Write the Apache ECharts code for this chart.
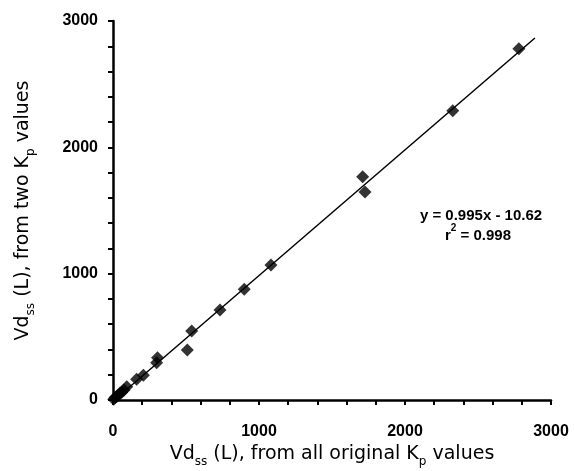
<!DOCTYPE html>
<html>
<head>
<meta charset="utf-8">
<script src="https://cdn.jsdelivr.net/npm/echarts@6/dist/echarts.min.js"></script>
<style>
  html, body { margin: 0; padding: 0; background: #fff; }
  #chart { width: 574px; height: 471px; }
</style>
</head>
<body>
<div id="chart"></div>
<script>
// Vd_ss from all original Kp values (x) vs from two Kp values (y)
var xVals = [5, 14, 25, 35, 48, 60, 75, 94, 162, 208, 299, 305, 509, 539, 733, 899, 1082, 1710, 1726, 2327, 2780];
var yVals = [5, 20, 28, 38, 55, 62, 80, 105, 164, 195, 295, 335, 396, 546, 713, 876, 1069, 1768, 1647, 2290, 2780];

// fitted line end points
var fitX = [10, 2890];
var fitY = [0, 2865];

var eqText = 'y = 0.995x - 10.62';
var r2Text = '0.998';

var points = xVals.map(function (x, i) { return [x, yVals[i]]; });
var fitLine = fitX.map(function (x, i) { return [x, fitY[i]]; });

var chart = echarts.init(document.getElementById('chart'));

var axisCommon = {
    type: 'value',
    min: 0,
    max: 3000,
    interval: 1000,
    nameLocation: 'middle',
    splitLine: { show: false },
    axisLine: { show: true, onZero: false, lineStyle: { color: '#000', width: 2.5 } },
    axisTick: { show: true, length: 5, lineStyle: { color: '#000', width: 2 } },
    minorTick: { show: true, splitNumber: 5, length: 5, lineStyle: { color: '#000', width: 2 } },
    axisLabel: {
        color: '#000',
        fontFamily: 'Liberation Sans',
        fontWeight: 'bold',
        fontSize: 16,
        formatter: function (v) { return String(v); }
    }
};

var nameRich = {
    n: { fontFamily: 'DejaVu Sans', fontSize: 19, color: '#000' },
    s: { fontFamily: 'DejaVu Sans', fontSize: 12, color: '#000', verticalAlign: 'bottom', padding: [0, 0, -4, 0] }
};

var option = {
    animation: false,
    backgroundColor: '#fff',
    grid: { left: 113, right: 23, top: 21, bottom: 71, outerBoundsMode: 'none', containLabel: false },
    xAxis: Object.assign({}, axisCommon, {
        name: '{n|Vd}{s|ss}{n| (L), from all original K}{s|p}{n| values}',
        nameGap: 38,
        nameTextStyle: { rich: nameRich },
        axisLabel: Object.assign({}, axisCommon.axisLabel, { margin: 24 })
    }),
    yAxis: Object.assign({}, axisCommon, {
        name: '{n|Vd}{s|ss}{n| (L), from two K}{s|p}{n| values}',
        nameGap: 80,
        nameTextStyle: { rich: nameRich },
        axisLabel: Object.assign({}, axisCommon.axisLabel, { margin: 15 })
    }),
    graphic: [{
        type: 'text',
        x: 481,
        y: 208,
        style: {
            text: eqText,
            fill: '#000',
            align: 'center',
            font: 'bold 15px "Liberation Sans"'
        }
    }, {
        type: 'text',
        x: 478,
        y: 228,
        style: {
            text: '{r|r}{p|2}{r| = ' + r2Text + '}',
            align: 'center',
            rich: {
                r: { fontFamily: 'Liberation Sans', fontWeight: 'bold', fontSize: 15, fill: '#000' },
                p: { fontFamily: 'Liberation Sans', fontWeight: 'bold', fontSize: 10, fill: '#000', verticalAlign: 'top', padding: [-5, 0, 0, 0] }
            }
        }
    }],
    series: [{
        type: 'line',
        data: fitLine,
        symbol: 'none',
        lineStyle: { color: '#000', width: 1.5 },
        z: 2
    }, {
        type: 'scatter',
        data: points,
        symbol: 'diamond',
        symbolSize: 13,
        itemStyle: { color: '#000' },
        z: 3
    }]
};

chart.setOption(option);
</script>
</body>
</html>
